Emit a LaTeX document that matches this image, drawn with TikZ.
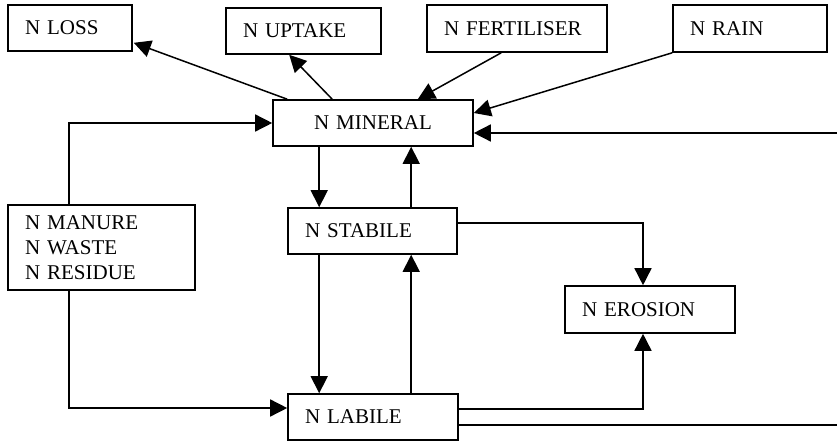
\documentclass[tikz,border=0pt]{standalone}
\usepackage{fontspec}
\setmainfont{Liberation Serif}
\usetikzlibrary{calc,arrows.meta}

\tikzset{
  pool/.style={draw, line width=1.6pt, rectangle, inner xsep=17pt, inner ysep=0pt,
    font=\fontsize{21}{25}\selectfont, align=left, anchor=center},
  flow/.style={line width=1.5pt, -{Triangle[length=17pt,width=17pt]}},
  plain/.style={line width=1.5pt}
}

\begin{document}
\begin{tikzpicture}[x=1pt,y=-1pt]
\useasboundingbox (0,0) rectangle (837,441);

% pools
\node[pool, minimum height=46pt, text width=90pt]  (loss)    at (70,28)     {N LOSS};
\node[pool, minimum height=46pt, text width=121pt] (uptake)  at (303.5,31)  {N UPTAKE};
\node[pool, minimum height=47pt, text width=146pt] (fert)    at (517,28.5)  {N FERTILISER};
\node[pool, minimum height=47pt, text width=120pt] (rain)    at (750,28.5)  {N RAIN};
\node[pool, minimum height=46pt, text width=166pt, align=center] (mineral) at (373,123) {N MINERAL};
\node[pool, minimum height=46pt, text width=135pt] (stabile) at (372.5,231) {N STABILE};
\node[pool, minimum height=46pt, text width=136pt] (labile)  at (373,417)   {N LABILE};
\node[pool, minimum height=47pt, text width=136pt] (erosion) at (650,309.5) {N EROSION};
\node[pool, minimum height=85pt, text width=153pt] (manure)  at (101.5,247.5) {N MANURE\\N WASTE\\N RESIDUE};

% right-hand margin where the open flows leave
\coordinate (rim) at (837,0);

% outputs and inputs of the mineral pool
\draw[flow] ($(mineral.north west)+(15,0)$) -- ($(loss.south east)+(1,-9)$);
\draw[flow] ($(mineral.north west)+(60,0)$) -- ($(uptake.south west)+(64,0)$);
\draw[flow] ($(fert.south west)+(75,0)$) -- ($(mineral.north east)+(-56,0)$);
\draw[flow] (rain.south west) -- ($(mineral.east)+(0,-10)$);
\coordinate (minR) at ($(mineral.east)+(0,10)$);
\draw[flow] (rim |- minR) -- (minR);

% organic inputs
\draw[flow] ($(manure.north west)+(62,0)$) |- (mineral.west);
\draw[flow] ($(manure.south west)+(62,0)$) |- ($(labile.west)+(0,-9)$);

% exchange between mineral, stabile and labile
\draw[flow] ($(mineral.south west)+(47,0)$) coordinate (m1) -- (m1 |- stabile.north);
\draw[flow] ($(stabile.north west)+(124,0)$) coordinate (s1) -- (s1 |- mineral.south);
\draw[flow] ($(stabile.south west)+(32,0)$) coordinate (s2) -- (s2 |- labile.north);
\draw[flow] ($(labile.north west)+(124,0)$) coordinate (l1) -- (l1 |- stabile.south);

% erosion losses
\draw[flow] ($(stabile.east)+(0,-8)$) -| ($(erosion.north)+(-7,0)$);
\draw[flow] ($(labile.east)+(0,-8)$) -| ($(erosion.south)+(-7,0)$);
\draw[plain] ($(labile.east)+(0,8)$) coordinate (l2) -- (l2 -| rim);
\end{tikzpicture}
\end{document}
